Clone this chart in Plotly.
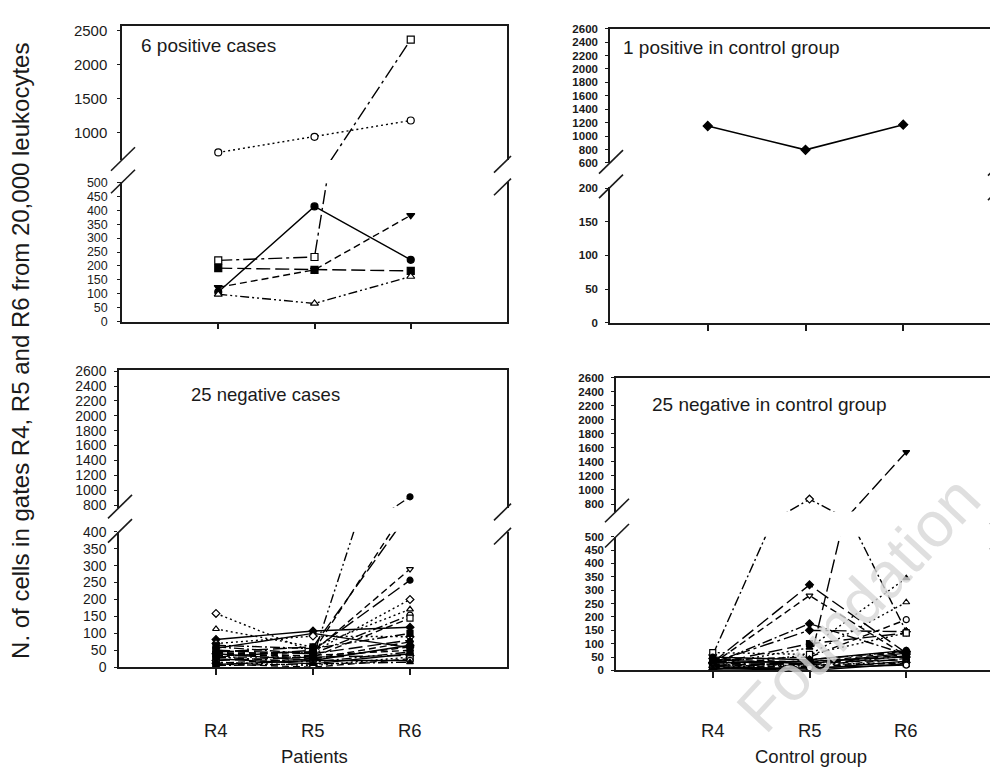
import plotly.graph_objects as go

W, H = 998, 773
categories = ["R4", "R5", "R6"]

# ---------------- data ----------------
# Panel A: 6 positive cases (patients)
pos_open_circle = [710, 940, 1180]
pos_open_square = [220, 232, 2370]
pos_filled_circle = [106, 414, 222]
pos_filled_tri_down = [123, 186, 382]
pos_filled_square = [192, 186, 182]
pos_open_tri_up = [98, 65, 162]

# Panel B: 1 positive in control group
ctrl_positive = [1150, 795, 1170]

# Panel C: 25 negative cases (patients) - values at R4, R5, R6
neg_R4 = [30, 45, 35, 40, 30, 159, 113, 60, 50, 82, 56, 70, 65, 50, 45, 40, 35, 30, 25, 20, 15, 10, 8, 5, 12]
neg_R5 = [30, 60, 45, 45, 50, 45, 60, 40, 30, 107, 100, 92, 55, 40, 25, 20, 35, 15, 10, 30, 5, 0, 20, 10, 25]
neg_R6 = [910, 460, 485, 290, 257, 200, 171, 154, 145, 118, 58, 90, 100, 80, 75, 65, 50, 45, 40, 35, 30, 25, 20, 15, 60]
neg_symbol = ["circle", "square", "triangle-up", "triangle-down", "circle", "diamond", "triangle-up", "circle",
              "square", "diamond", "circle", "diamond", "square", "triangle-up", "circle", "diamond", "square",
              "triangle-down", "circle", "diamond", "square", "square", "circle", "triangle-up", "diamond"]
neg_filled = [1, 1, 1, 0, 1, 0, 0, 0, 0, 1, 1, 0, 1, 1, 1, 1, 1, 1, 1, 1, 1, 0, 0, 1, 1]
neg_dash = ["dashdotdot", "longdash", "dash", "dash", "longdash", "dot", "dot", "dashdot", "dash", "solid",
            "solid", "dot", "dashdot", "longdash", "dash", "solid", "dash", "dashdot", "solid", "longdash",
            "dot", "dash", "solid", "dashdot", "dash"]

# Panel D: 25 negative in control group - values at R4, R5, R6
ctl_R4 = [20, 58, 30, 25, 20, 15, 40, 30, 25, 25, 67, 50, 45, 40, 35, 30, 28, 22, 18, 15, 12, 10, 8, 5, 3]
ctl_R5 = [25, 870, 320, 280, 85, 60, 50, 150, 175, 100, 60, 40, 30, 25, 20, 15, 35, 10, 30, 5, 20, 15, 0, 10, 40]
ctl_R6 = [1540, 145, 65, 55, 345, 255, 190, 145, 60, 140, 140, 75, 70, 65, 60, 55, 50, 45, 40, 35, 30, 28, 25, 20, 72]
ctl_symbol = ["triangle-down", "diamond", "diamond", "triangle-down", "triangle-up", "triangle-up", "circle",
              "diamond", "diamond", "square", "square", "circle", "diamond", "square", "triangle-up", "circle",
              "diamond", "square", "circle", "triangle-down", "diamond", "circle", "square", "circle", "diamond"]
ctl_filled = [1, 0, 1, 0, 1, 0, 0, 1, 1, 1, 0, 1, 1, 1, 1, 1, 1, 1, 1, 1, 1, 0, 1, 0, 1]
ctl_dash = ["longdash", "dashdot", "longdash", "dash", "dot", "dot", "dash", "longdashdot", "dashdot",
            "longdash", "dot", "solid", "dash", "solid", "longdash", "dashdot", "solid", "dash", "longdash",
            "solid", "dot", "dash", "solid", "solid", "dashdot"]

# tick labels
A_up_ticks = [1000, 1500, 2000, 2500]
A_lo_ticks = [0, 50, 100, 150, 200, 250, 300, 350, 400, 450, 500]
B_up_ticks = [600, 800, 1000, 1200, 1400, 1600, 1800, 2000, 2200, 2400, 2600]
B_lo_ticks = [0, 50, 100, 150, 200]
C_up_ticks = [800, 1000, 1200, 1400, 1600, 1800, 2000, 2200, 2400, 2600]
C_lo_ticks = [0, 50, 100, 150, 200, 250, 300, 350, 400]
D_up_ticks = [800, 1000, 1200, 1400, 1600, 1800, 2000, 2200, 2400, 2600]
D_lo_ticks = [0, 50, 100, 150, 200, 250, 300, 350, 400, 450, 500]

titles = ["6 positive cases", "1 positive in control group", "25 negative cases", "25 negative in control group"]
group_labels = ["Patients", "Control group"]
y_title = "N. of cells in gates R4, R5 and R6 from 20,000 leukocytes"

# ---------------- styles / geometry ----------------
FONT = "Liberation Sans, Arial, sans-serif"
INK = "#1a1a1a"
DASHES = {
    "solid": "solid",
    "dot": "2px,3px",
    "dash": "7px,4px",
    "longdash": "14px,5px",
    "dashdot": "10px,3px,2px,3px",
    "longdashdot": "14px,4px,3px,4px",
    "dashdotdot": "9px,3px,2px,3px,2px,3px",
}


def fx(px):
    return px / W


def fy(py):
    return 1 - py / H


reg15 = dict(family=FONT, size=15, color=INK)
reg14 = dict(family=FONT, size=14, color=INK)
reg12 = dict(family=FONT, size=12.5, color=INK)
bold = dict(family=FONT, size=11.5, color=INK, weight="bold")

panels = [
    dict(x=(114, 499), up=(10, 147), up_range=(600, 2572), lo=(170, 312), lo_range=(0, 500),
         up_ticks=A_up_ticks, lo_ticks=A_lo_ticks, up_font=reg15, lo_font=reg12, stand=7),
    dict(x=(602, 993), up=(13, 150), up_range=(600, 2600), lo=(175, 313.3), lo_range=(0, 201),
         up_ticks=B_up_ticks, lo_ticks=B_lo_ticks, up_font=bold, lo_font=bold, stand=5),
    dict(x=(111, 499), up=(361, 502), up_range=(765, 2622), lo=(526.7, 665), lo_range=(0, 400),
         up_ticks=C_up_ticks, lo_ticks=C_lo_ticks, up_font=reg14, lo_font=reg14, stand=5),
    dict(x=(608, 995), up=(369.3, 506), up_range=(693, 2600), lo=(531.7, 668.3), lo_range=(0, 500),
         up_ticks=D_up_ticks, lo_ticks=D_lo_ticks, up_font=bold, lo_font=bold, stand=5),
]


def ax_key(letter, n):
    return f"{letter}axis" if n == 1 else f"{letter}axis{n}"


def ax_ref(letter, n):
    return letter if n == 1 else f"{letter}{n}"


fig = go.Figure()


def add_series(k, ys, symbol, filled, dash, size=6, width=1.4):
    for n in (2 * k + 1, 2 * k + 2):
        fig.add_trace(go.Scatter(
            x=categories, y=ys, mode="lines+markers",
            xaxis=ax_ref("x", n), yaxis=ax_ref("y", n),
            line=dict(color="black", width=width, dash=DASHES[dash]),
            marker=dict(symbol=symbol, size=size, color="black" if filled else "white",
                        line=dict(color="black", width=1.2)),
            showlegend=False, hoverinfo="skip"))


# Panel A
add_series(0, pos_filled_square, "square", 1, "longdash", 7)
add_series(0, pos_filled_tri_down, "triangle-down", 1, "dash", 7)
add_series(0, pos_filled_circle, "circle", 1, "solid", 7)
add_series(0, pos_open_tri_up, "triangle-up", 0, "dashdotdot", 7)
add_series(0, pos_open_square, "square", 0, "longdashdot", 7)
add_series(0, pos_open_circle, "circle", 0, "dot", 7)
# Panel B
add_series(1, ctrl_positive, "diamond", 1, "solid", 7, 1.6)
# Panel C
for i in range(len(neg_R4)):
    add_series(2, [neg_R4[i], neg_R5[i], neg_R6[i]], neg_symbol[i], neg_filled[i], neg_dash[i], 6)
# Panel D
for i in range(len(ctl_R4)):
    add_series(3, [ctl_R4[i], ctl_R5[i], ctl_R6[i]], ctl_symbol[i], ctl_filled[i], ctl_dash[i], 6)

layout = dict(width=W, height=H, margin=dict(l=0, r=0, t=0, b=0), autosize=False,
              paper_bgcolor="white", plot_bgcolor="white", showlegend=False)

shapes = []
for k, p in enumerate(panels):
    nu, nl = 2 * k + 1, 2 * k + 2
    xdom = [fx(p["x"][0]), fx(p["x"][1])]
    common_x = dict(domain=xdom, type="category", categoryorder="array", categoryarray=categories,
                    range=[-1, 3], showgrid=False, zeroline=False, showline=True, linecolor=INK,
                    linewidth=1.5, showticklabels=False, fixedrange=True)
    layout[ax_key("x", nu)] = dict(common_x, anchor=ax_ref("y", nu), side="top", ticks="")
    layout[ax_key("x", nl)] = dict(common_x, anchor=ax_ref("y", nl), side="bottom", ticks="outside",
                                   ticklen=6, tickwidth=1.5, tickcolor=INK,
                                   tickmode="array", tickvals=categories)
    for n, seg, rng, tv, fnt in ((nu, p["up"], p["up_range"], p["up_ticks"], p["up_font"]),
                                 (nl, p["lo"], p["lo_range"], p["lo_ticks"], p["lo_font"])):
        layout[ax_key("y", n)] = dict(
            domain=[fy(seg[1]), fy(seg[0])], anchor=ax_ref("x", n), range=list(rng),
            tickmode="array", tickvals=tv, ticktext=[str(v) for v in tv],
            showline=True, mirror=True, linecolor=INK, linewidth=1.5,
            ticks="outside", ticklen=3, tickwidth=1.2, tickcolor=INK,
            ticklabelstandoff=p["stand"],
            tickfont=fnt, showgrid=False, zeroline=False, fixedrange=True)
    # break marks
    ax_l, ax_r = p["x"]
    for yb in (p["up"][1], p["lo"][0]):
        shapes.append(dict(type="line", xref="paper", yref="paper",
                           x0=fx(ax_l - 11), y0=fy(yb + 11), x1=fx(ax_l + 13), y1=fy(yb - 13),
                           line=dict(color=INK, width=1.6)))
        shapes.append(dict(type="line", xref="paper", yref="paper",
                           x0=fx(ax_r - 13), y0=fy(yb + 13), x1=fx(ax_r + 4), y1=fy(yb - 4),
                           line=dict(color=INK, width=1.6)))
layout["shapes"] = shapes

ann = []
title_pos = [(131, 30, 19), (613, 32, 19), (181, 387, 18.5), (642, 397, 19)]
for t, (tx, ty, ts) in zip(titles, title_pos):
    ann.append(dict(text=t, xref="paper", yref="paper", x=fx(tx), y=fy(ty), xanchor="left",
                    yanchor="middle", showarrow=False, font=dict(family=FONT, size=ts, color=INK)))
# x category labels under bottom panels
for n in (6, 8):
    for c in categories:
        ann.append(dict(text=c, xref=ax_ref("x", n), yref="paper", x=c, y=fy(730), xanchor="center",
                        yanchor="middle", showarrow=False, font=dict(family=FONT, size=18.5, color=INK)))
for g, gx in zip(group_labels, (306, 803)):
    ann.append(dict(text=g, xref="paper", yref="paper", x=fx(gx), y=fy(756), xanchor="center",
                    yanchor="middle", showarrow=False, font=dict(family=FONT, size=18.5, color=INK)))
ann.append(dict(text=y_title, xref="paper", yref="paper", x=fx(13), y=fy(342), textangle=-90,
                xanchor="center", yanchor="middle", showarrow=False,
                font=dict(family=FONT, size=24, color=INK)))
# watermark
ann.append(dict(text="Foundation", xref="paper", yref="paper", x=fx(850), y=fy(600), textangle=-47,
                xanchor="center", yanchor="middle", showarrow=False,
                font=dict(family=FONT, size=64, color="rgba(215,215,215,0.8)")))
layout["annotations"] = ann

fig.update_layout(**layout)
fig.write_html("out.html")
